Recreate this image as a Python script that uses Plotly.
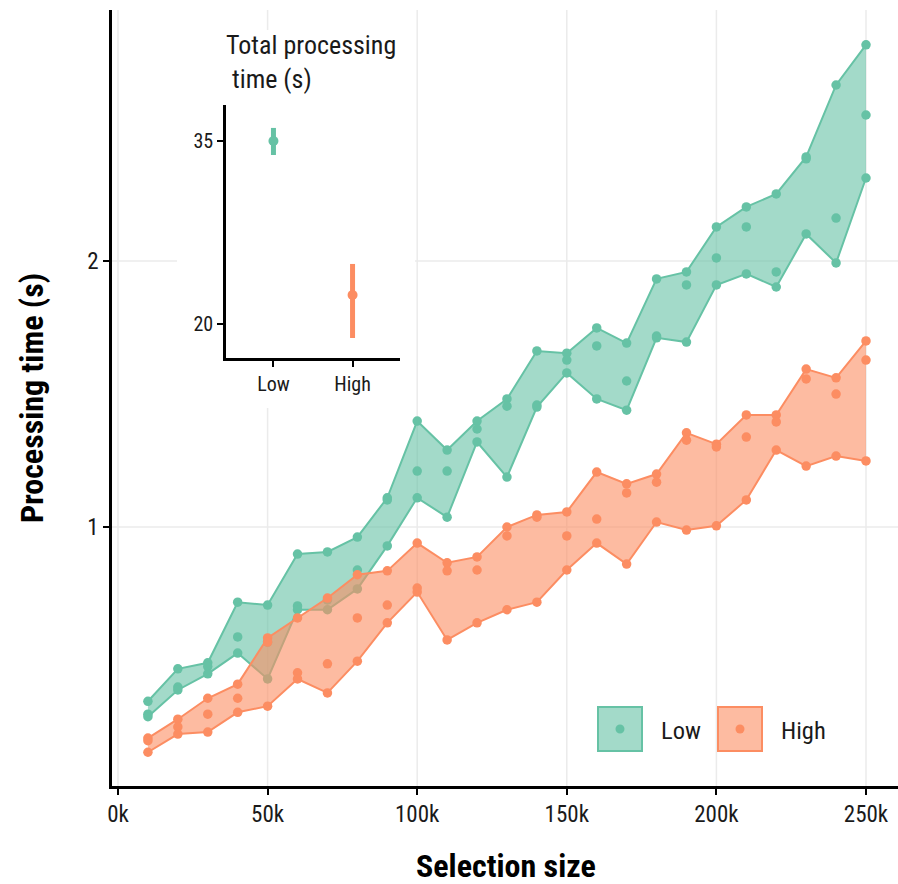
import numpy as np
import plotly.graph_objects as go

# ---------------- data ----------------
selection_size = [10000, 20000, 30000, 40000, 50000, 60000, 70000, 80000, 90000, 100000,
                  110000, 120000, 130000, 140000, 150000, 160000, 170000, 180000, 190000, 200000,
                  210000, 220000, 230000, 240000, 250000]

low_run1 = [0.635, 0.691, 0.702, 0.822, 0.816, 0.932, 0.937, 0.974, 1.079, 1.318,
            1.222, 1.318, 1.396, 1.582, 1.573, 1.680, 1.615, 1.909, 1.944, 2.186,
            2.303, 2.382, 2.623, 3.164, 3.513]
low_run2 = [0.614, 0.659, 0.695, 0.751, 0.741, 0.814, 0.827, 0.894, 1.073, 1.157,
            1.157, 1.291, 1.370, 1.374, 1.545, 1.603, 1.463, 1.645, 1.879, 2.016,
            2.186, 1.944, 2.610, 2.237, 2.926]
low_run3 = [0.610, 0.654, 0.682, 0.720, 0.673, 0.806, 0.806, 0.851, 0.952, 1.079,
            1.026, 1.248, 1.139, 1.367, 1.494, 1.396, 1.356, 1.637, 1.619, 1.879,
            1.934, 1.869, 2.146, 1.990, 2.483]

high_run1 = [0.577, 0.606, 0.640, 0.664, 0.749, 0.789, 0.831, 0.883, 0.892, 0.959,
             0.911, 0.925, 1.000, 1.032, 1.040, 1.154, 1.119, 1.148, 1.278, 1.241,
             1.339, 1.339, 1.509, 1.475, 1.624]
high_run2 = [0.573, 0.594, 0.614, 0.640, 0.741, 0.684, 0.700, 0.789, 0.816, 0.853,
             0.892, 0.894, 0.977, 1.026, 0.977, 1.021, 1.093, 1.124, 1.254, 1.232,
             1.264, 1.315, 1.471, 1.414, 1.545]
high_run3 = [0.556, 0.583, 0.586, 0.617, 0.627, 0.673, 0.649, 0.705, 0.779, 0.844,
             0.745, 0.779, 0.806, 0.822, 0.894, 0.959, 0.908, 1.013, 0.992, 1.003,
             1.073, 1.222, 1.172, 1.203, 1.188]

x_tick_vals = [0, 50000, 100000, 150000, 200000, 250000]
x_tick_text = ["0k", "50k", "100k", "150k", "200k", "250k"]
y_tick_vals = [1, 2]

inset_groups = ["Low", "High"]
inset_mean = [35.0, 22.38]
inset_upper = [36.07, 24.92]
inset_lower = [33.85, 18.85]
inset_tick_vals = [20, 35]

# ---------------- style ----------------
GREEN = "#66c2a5"
ORANGE = "#fc8d62"
GREEN_FILL = "rgba(102,194,165,0.6)"
ORANGE_FILL = "rgba(252,141,98,0.6)"
FONT = "Roboto Condensed, Liberation Sans Narrow, Roboto, sans-serif"
TXT = "#1a1a1a"
GRID = "#ebebeb"

W, H = 898, 884
ML, MR, MT, MB = 112, 0, 10, 98
PW, PH = W - ML - MR, H - MT - MB


def px_x(p):
    return (p - ML) / PW


def px_y(p):
    return (H - MB - p) / PH


fig = go.Figure()

groups = [
    ("Low", [low_run1, low_run2, low_run3], GREEN, GREEN_FILL),
    ("High", [high_run1, high_run2, high_run3], ORANGE, ORANGE_FILL),
]
for name, runs, col, fill in groups:
    arr = np.array(runs)
    lo = arr.min(axis=0)
    hi = arr.max(axis=0)
    fig.add_trace(go.Scatter(x=selection_size, y=lo, mode="lines",
                             line=dict(color=col, width=2), showlegend=False,
                             hoverinfo="skip"))
    fig.add_trace(go.Scatter(x=selection_size, y=hi, mode="lines", fill="tonexty",
                             fillcolor=fill, line=dict(color=col, width=2),
                             showlegend=False, hoverinfo="skip"))
    xs = []
    ys = []
    for r in runs:
        xs += selection_size
        ys += list(r)
    fig.add_trace(go.Scatter(x=xs, y=ys, mode="markers", name=name,
                             marker=dict(color=col, size=9.5), showlegend=False))

# inset
inset_cols = [GREEN, ORANGE]
for i, g in enumerate(inset_groups):
    fig.add_trace(go.Scatter(
        x=[g], y=[inset_mean[i]], mode="markers",
        marker=dict(color=inset_cols[i], size=10),
        error_y=dict(type="data", symmetric=False,
                     array=[inset_upper[i] - inset_mean[i]],
                     arrayminus=[inset_mean[i] - inset_lower[i]],
                     color=inset_cols[i], thickness=5, width=0),
        xaxis="x2", yaxis="y2", showlegend=False))

y_lo = (527 - 786) / 883.6
y_hi = (527 - 10) / 883.6
x_per = (866 - 118) / 250000.0
x_lo = (ML - 118) / x_per
x_hi = (W - MR - 118) / x_per

fig.update_layout(
    width=W, height=H,
    margin=dict(l=ML, r=MR, t=MT, b=MB),
    plot_bgcolor="white", paper_bgcolor="white",
    font=dict(family=FONT, color=TXT, size=23),
    xaxis=dict(range=[x_lo, x_hi], tickvals=x_tick_vals, ticktext=x_tick_text,
               showgrid=False,
               showline=True, linecolor="black", linewidth=2.5,
               ticks="outside", ticklen=6, tickwidth=2, tickcolor="black",
               tickfont=dict(size=23, family=FONT, color=TXT), zeroline=False),
    yaxis=dict(type="log", range=[y_lo, y_hi], tickvals=y_tick_vals,
               ticktext=[str(v) for v in y_tick_vals],
               showgrid=False,
               showline=True, linecolor="black", linewidth=2.5,
               ticks="outside", ticklen=6, tickwidth=2, tickcolor="black",
               tickfont=dict(size=23, family=FONT, color=TXT), zeroline=False),
    xaxis2=dict(domain=[px_x(226), px_x(400)], anchor="y2", type="category",
                range=[-0.6, 1.6], showgrid=False, showline=True, linecolor="black",
                linewidth=2.5, ticks="outside", ticklen=6, tickwidth=2, tickcolor="black",
                tickfont=dict(size=20, family=FONT, color=TXT), zeroline=False),
    yaxis2=dict(domain=[px_y(358), px_y(105)], anchor="x2", range=[17.21, 37.95],
                tickvals=inset_tick_vals, showgrid=False, showline=True, linecolor="black",
                linewidth=2.5, ticks="outside", ticklen=6, tickwidth=2, tickcolor="black",
                tickfont=dict(size=20, family=FONT, color=TXT), zeroline=False),
    showlegend=False,
)

# gridlines of the main panel, interrupted behind the inset's white box
BOX_X0, BOX_X1 = px_x(177), px_x(415)
BOX_Y0, BOX_Y1 = px_y(408), px_y(30)
for xv in x_tick_vals:
    pxv = 118 + xv * x_per
    if 177 < pxv < 415:
        segs = [(0, BOX_Y0), (BOX_Y1, 1)]
    else:
        segs = [(0, 1)]
    for a, b in segs:
        fig.add_shape(type="line", xref="x", yref="paper", x0=xv, x1=xv, y0=a, y1=b,
                      line=dict(color=GRID, width=1.5), layer="below")
for yv in y_tick_vals:
    pyv = 527 - np.log10(yv) * 883.6
    if 30 < pyv < 408:
        segs = [(0, BOX_X0), (BOX_X1, 1)]
    else:
        segs = [(0, 1)]
    for a, b in segs:
        fig.add_shape(type="line", xref="paper", yref="y", x0=a, x1=b, y0=yv, y1=yv,
                      line=dict(color=GRID, width=1.5), layer="below")

# inset title
fig.add_annotation(xref="paper", yref="paper", x=px_x(224), y=px_y(62),
                   xanchor="left", yanchor="middle", align="left", showarrow=False,
                   text="Total processing<br> time (s)",
                   font=dict(size=26, family=FONT, color=TXT))

# axis titles
fig.add_annotation(xref="paper", yref="paper", x=px_x(506), y=px_y(866),
                   xanchor="center", yanchor="middle", showarrow=False,
                   text="<b>Selection size</b>", font=dict(size=32, family=FONT, color="black"))
fig.add_annotation(xref="paper", yref="paper", x=px_x(32), y=px_y(398),
                   xanchor="center", yanchor="middle", showarrow=False, textangle=-90,
                   text="<b>Processing time (s)</b>", font=dict(size=32, family=FONT, color="black"))

# legend (drawn manually, ggplot style)
leg = [("Low", GREEN, GREEN_FILL, 598, 659), ("High", ORANGE, ORANGE_FILL, 718, 779)]
for name, col, fill, bx, tx in leg:
    fig.add_shape(type="rect", xref="paper", yref="paper",
                  x0=px_x(bx), x1=px_x(bx + 44), y0=px_y(751), y1=px_y(707),
                  fillcolor=fill, line=dict(color=col, width=2), layer="above")
    cx = bx + 22
    fig.add_shape(type="circle", xref="paper", yref="paper",
                  x0=px_x(cx - 4.5), x1=px_x(cx + 4.5), y0=px_y(733.5), y1=px_y(724.5),
                  fillcolor=col, line=dict(width=0), layer="above")
    fig.add_annotation(xref="paper", yref="paper", x=px_x(tx), y=px_y(730),
                       xanchor="left", yanchor="middle", showarrow=False,
                       text=name, font=dict(size=24.5, family=FONT, color=TXT))

fig.write_html("out.html", config={"displayModeBar": False},
               post_script="document.body.style.margin='0';")
